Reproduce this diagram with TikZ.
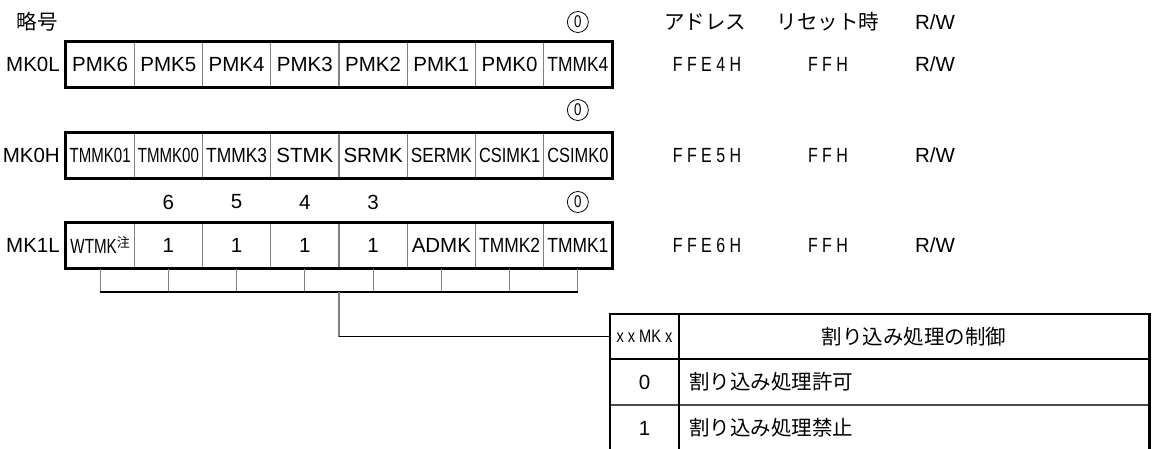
\documentclass[tikz,border=0pt]{standalone}
\usepackage{fontspec}
\usepackage{graphicx}
\setmainfont{Liberation Sans}
\newfontfamily\cjk{Noto Sans CJK JP}
\newfontfamily\narrowf[FakeStretch=0.78]{Liberation Sans}
\newsavebox\cellbox
\newcommand\fitcell[1]{\sbox\cellbox{#1}\ifdim\wd\cellbox>61pt\resizebox{61pt}{\height}{\usebox\cellbox}\else\usebox\cellbox\fi}
\tikzset{
  txt/.style={inner sep=0pt, font=\fontsize{20.5}{24}\selectfont},
  jtxt/.style={inner sep=0pt, font=\cjk\fontsize{20.5}{24}\selectfont},
  ntxt/.style={inner sep=0pt, font=\narrowf\fontsize{20.5}{24}\selectfont},
  cell/.style={draw=black!50, line width=1.2pt, minimum width=68.25pt, minimum height=45.5pt, inner sep=0pt, font=\fontsize{20.5}{24}\selectfont},
  regframe/.style={line width=2.8pt},
  tick/.style={draw=black!50, line width=1.2pt},
  bar/.style={draw=black, line width=1.2pt},
  cz/.style={circle, draw, line width=0.8pt, minimum size=21pt, inner sep=0pt, font=\narrowf\fontsize{17}{17}\selectfont},
  tthick/.style={line width=2.8pt},
  tthin/.style={line width=1.4pt, draw=black!70},
}
\begin{document}
\begin{tikzpicture}[x=1pt, y=-1pt]
\useasboundingbox (0,0) rectangle (1155,448);
\clip (0,0) rectangle (1155,448);
% header
\node[jtxt] (hsym) at (37,22) {略号};
\node[jtxt] (hadr) at (705,22) {アドレス};
\node[jtxt] (hrst) at (828,22) {リセット時};
\node[txt] (hrw) at (935,22) {R/W};
% MK0L
\foreach \t [count=\i from 0] in {PMK6,PMK5,PMK4,PMK3,PMK2,PMK1,PMK0,TMMK4}
  \node[cell] (a\i) at ({66+68.25*(\i+0.5)},64.5) {\fitcell{\t}};
\draw[regframe] (a0.north west) rectangle (a7.south east);
\node[txt, anchor=east] (la) at (60,64.5) {MK0L};
\node[cz] (za) at (a7.center |- 0,22) {0};
\node[ntxt] (adra) at (707,64.5) {F F E 4 H};
\node[ntxt] (rsta) at (828,64.5) {F F H};
\node[txt] (rwa) at (935,64.5) {R/W};
% MK0H
\foreach \t [count=\i from 0] in {TMMK01,TMMK00,TMMK3,STMK,SRMK,SERMK,CSIMK1,CSIMK0}
  \node[cell] (b\i) at ({66+68.25*(\i+0.5)},155.5) {\fitcell{\t}};
\draw[regframe] (b0.north west) rectangle (b7.south east);
\node[txt, anchor=east] (lb) at (60,155.5) {MK0H};
\node[cz] (zb) at (b7.center |- 0,110) {0};
\node[ntxt] (adrb) at (707,155.5) {F F E 5 H};
\node[ntxt] (rstb) at (828,155.5) {F F H};
\node[txt] (rwb) at (935,155.5) {R/W};
% MK1L
\node[cell] (c0) at ({66+68.25*0.5},245.5) {\scalebox{0.74}[1]{WTMK}\raisebox{6pt}{\cjk\fontsize{13}{13}\selectfont 注}};
\foreach \t [count=\i from 1] in {1,1,1,1,ADMK,TMMK2,TMMK1}
  \node[cell] (c\i) at ({66+68.25*(\i+0.5)},245.5) {\fitcell{\t}};
\draw[regframe] (c0.north west) rectangle (c7.south east);
\node[txt, anchor=east] (lc) at (60,245.5) {MK1L};
\node[cz] (zc) at (c7.center |- 0,202) {0};
\foreach \d [count=\i from 1] in {6,5,4,3}
  \node[txt] (n\i) at (c\i.center |- 0,202) {\d};
\node[ntxt] (adrc) at (707,245.5) {F F E 6 H};
\node[ntxt] (rstc) at (828,245.5) {F F H};
\node[txt] (rwc) at (935,245.5) {R/W};
% ticks
\coordinate (tb) at (339,292);
\foreach \i in {0,...,7}
  \draw[tick] (c\i.south) -- (c\i.south |- tb);
\draw[bar] (c0.south |- tb) -- (c7.south |- tb);
% table
\node[inner sep=0pt, minimum width=69pt, minimum height=45pt] (hx) at (644.5,336.5) {\resizebox{56pt}{\height}{\narrowf\fontsize{18}{20}\selectfont x x MK x}};
\node[jtxt] (hctl) at (914,336.5) {割り込み処理の制御};
\node[txt] (v0) at (644.5,382) {0};
\node[jtxt, anchor=west] (d0) at (689,382) {割り込み処理許可};
\node[txt] (v1) at (644.5,428) {1};
\node[jtxt, anchor=west] (d1) at (689,428) {割り込み処理禁止};
\draw[tthin] (610,405) -- (1149.5,405);
\draw[tthick] (610,455) -- (610,314) -- (1149.5,314) -- (1149.5,455);
\draw[tthick] (679,314) -- (679,455);
\draw[tthick] (610,359) -- (1149.5,359);
% connector
\draw[tick] (tb) -- (tb |- hx.west);
\draw[bar] (tb |- hx.west) -- (hx.west);
\end{tikzpicture}
\end{document}
